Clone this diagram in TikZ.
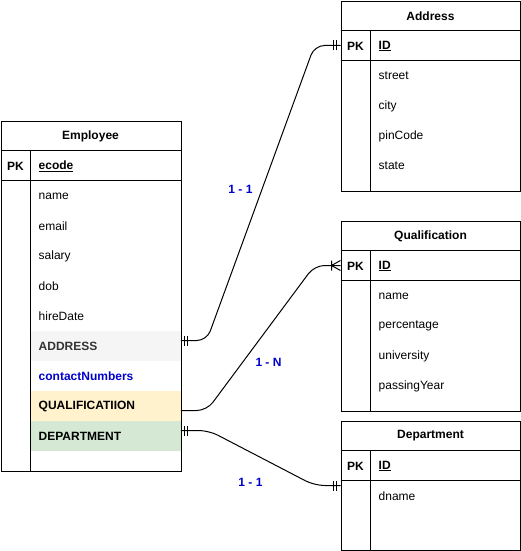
\documentclass[tikz,border=0pt]{standalone}
\usepackage{fontspec}
\setmainfont{Liberation Sans}
\usetikzlibrary{positioning}

\definecolor{relblue}{HTML}{0000CC}
\definecolor{rowgray}{HTML}{F5F5F5}
\definecolor{rowyellow}{HTML}{FFF2CC}
\definecolor{rowgreen}{HTML}{D5E8D4}
\definecolor{txtgray}{HTML}{333333}

\tikzset{
	tablebox/.style={draw, line width=1pt, inner sep=0pt, anchor=north west},
	attr/.style={anchor=west, inner sep=0pt, font=\fontsize{12}{14}\selectfont},
	keyattr/.style={attr, font=\fontsize{12}{14}\selectfont\bfseries},
	ttl/.style={inner sep=0pt, font=\fontsize{12}{14}\selectfont\bfseries},
	rel/.style={inner sep=0pt, text=relblue, font=\fontsize{12}{14}\selectfont\bfseries},
	conn/.style={line width=1pt, rounded corners=10pt},
	mandone/.pic={\draw[line width=1pt] (4pt,-5pt)--(4pt,5pt) (7pt,-5pt)--(7pt,5pt);},
	onemany/.pic={\draw[line width=1pt] (9pt,-5pt)--(9pt,5pt) (9pt,0)--(0,-5pt) (9pt,0)--(0,5pt);}
}

\begin{document}
\begin{tikzpicture}[x=1pt, y=-1pt]
	\useasboundingbox (0,0) rectangle (521,551);
	
	%row fills
	\fill[rowgray]   (30.5,330.5) rectangle (180.5,360.5);	%address row
	\fill[rowyellow] (30.5,390.5) rectangle (180.5,420.5);	%qualification row
	\fill[rowgreen]  (30.5,420.5) rectangle (180.5,450.5);	%department row
	
	%tables
	\node[tablebox, minimum width=180pt, minimum height=350pt] (emp)  at (0.8,120.5) {};
	\node[tablebox, minimum width=179pt, minimum height=190pt] (addr) at (340.5,0.8) {};
	\node[tablebox, minimum width=179pt, minimum height=190pt] (qual) at (340.5,220.5) {};
	\node[tablebox, minimum width=179pt, minimum height=129pt] (dept) at (340.5,420.5) {};
	
	%inner lines
	\draw[line width=1pt] (0.8,150.5)--(180.8,150.5) (0.8,180.5)--(180.8,180.5) (30.5,150.5)--(30.5,470.5);
	\draw[line width=1pt] (340.5,30.5)--(519.5,30.5) (340.5,60.5)--(519.5,60.5) (370.5,30.5)--(370.5,190.8);
	\draw[line width=1pt] (340.5,250.5)--(519.5,250.5) (340.5,280.5)--(519.5,280.5) (370.5,250.5)--(370.5,410.5);
	\draw[line width=1pt] (340.5,450.5)--(519.5,450.5) (340.5,480.5)--(519.5,480.5) (370.5,450.5)--(370.5,549.5);
	
	%Employee
	\node[ttl] (empT) at (90.5,136) {Employee};
	\node[ttl] (empPK) at (15.5,166) {PK};
	\node[keyattr] (empK) at (38.5,166) {\underline{ecode}};
	\node[attr] (emp1) at (38.5,196) {name};
	\node[attr] (emp2) at (38.5,226) {email};
	\node[attr] (emp3) at (38.5,256) {salary};
	\node[attr] (emp4) at (38.5,286) {dob};
	\node[attr] (emp5) at (38.5,316) {hireDate};
	\node[keyattr, text=txtgray] (emp6) at (38.5,346) {ADDRESS};
	\node[keyattr, text=relblue] (emp7) at (38.5,376) {contactNumbers};
	\node[keyattr] (emp8) at (38.5,406) {QUALIFICATIION};
	\node[keyattr] (emp9) at (38.5,436) {DEPARTMENT};
	
	%Address
	\node[ttl] (addrT) at (430.5,16) {Address};
	\node[ttl] (addrPK) at (355.5,46) {PK};
	\node[keyattr] (addrK) at (378.5,46) {\underline{ID}};
	\node[attr] (addr1) at (378.5,76) {street};
	\node[attr] (addr2) at (378.5,106) {city};
	\node[attr] (addr3) at (378.5,136) {pinCode};
	\node[attr] (addr4) at (378.5,166) {state};
	
	%Qualification
	\node[ttl] (qualT) at (430.5,236) {Qualification};
	\node[ttl] (qualPK) at (355.5,266) {PK};
	\node[keyattr] (qualK) at (378.5,266) {\underline{ID}};
	\node[attr] (qual1) at (378.5,296) {name};
	\node[attr] (qual2) at (378.5,326) {percentage};
	\node[attr] (qual3) at (378.5,356) {university};
	\node[attr] (qual4) at (378.5,386) {passingYear};
	
	%Department
	\node[ttl] (deptT) at (430.5,436) {Department};
	\node[ttl] (deptPK) at (355.5,466) {PK};
	\node[keyattr] (deptK) at (378.5,466) {\underline{ID}};
	\node[attr] (dept1) at (378.5,496) {dname};
	
	%connector ends
	\coordinate (empA) at (180.8,340.5);
	\coordinate (empQ) at (180.8,410.5);
	\coordinate (empD) at (180.8,430.5);
	\coordinate (addrA) at (340.5,45.5);
	\coordinate (qualQ) at (340.5,265.5);
	\coordinate (deptD) at (340.5,485.5);
	
	%connectors
	\draw[conn] (empA)--([xshift=26pt]empA)--([xshift=-26pt]addrA)--(addrA);	%employee - address
	\draw[conn] (empQ)--([xshift=26pt]empQ)--([xshift=-26pt]qualQ)--(qualQ);	%employee - qualification
	\draw[conn] (empD)--([xshift=28pt]empD)--([xshift=-26pt]deptD)--(deptD);	%employee - department
	
	%end marks
	\pic at (empA) {mandone};
	\pic[xscale=-1] at (addrA) {mandone};
	\pic[xscale=-1] at (qualQ) {onemany};
	\pic at (empD) {mandone};
	\pic[xscale=-1] at (deptD) {mandone};
	
	%relation labels
	\node[rel] (lbl1) at (240.5,189) {1 - 1};
	\node[rel] (lbl2) at (268.5,362) {1 - N};
	\node[rel] (lbl3) at (250.5,482) {1 - 1};
\end{tikzpicture}
\end{document}
